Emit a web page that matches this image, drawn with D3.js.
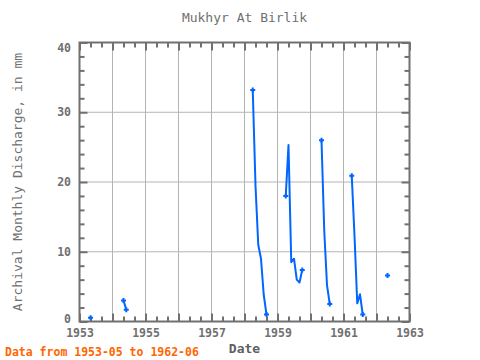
<!DOCTYPE html>
<html><head><meta charset="utf-8">
<script src="https://cdn.jsdelivr.net/npm/d3@7"></script>
<style>body{margin:0;background:#fff;} svg{display:block;}</style>
</head><body>
<svg id="c" width="480" height="360"></svg>
<script>
// Monthly discharge (mm); null marks a gap in the record
const dates = ["1953-05", null,
  "1954-05", "1954-06", null,
  "1958-04", "1958-05", "1958-06", "1958-07", "1958-08", "1958-09", null,
  "1959-04", "1959-05", "1959-06", "1959-07", "1959-08", "1959-09", "1959-10", null,
  "1960-05", "1960-06", "1960-07", "1960-08", null,
  "1961-04", "1961-05", "1961-06", "1961-07", "1961-08", null,
  "1962-05"];
const discharge = [0.55, null,
  3.0, 1.7, null,
  33.2, 19.5, 11.0, 9.0, 3.8, 1.0, null,
  18.0, 25.3, 8.5, 9.0, 6.0, 5.6, 7.4, null,
  26.0, 13.0, 5.2, 2.5, null,
  20.9, 12.3, 2.6, 3.9, 1.0, null,
  6.6];
const xLabelYears = [1953, 1955, 1957, 1959, 1961, 1963];
const yTickValues = [0, 10, 20, 30, 40];
const titleText = "Mukhyr At Birlik";
const yTitle = "Archival Monthly Discharge, in mm";
const xTitle = "Date";
const footerText = "Data from 1953-05 to 1962-06";

const toYear = s => { const [y, m] = s.split("-").map(Number); return y + (m - 1) / 12; };
const data = dates.map((d, i) => d === null ? null : { t: toYear(d), v: discharge[i] });

const svg = d3.select("#c");
const L = 79.5, R = 409.5, T = 42.5, B = 321.5;
const x = d3.scaleLinear().domain([1953, 1963]).range([L, R]);
const y = d3.scaleLinear().domain([0, 40]).range([B, T]);
const axisCol = "#707070", gridCol = "#b4b4b4", lineCol = "#0066ff";
const mono = "'DejaVu Sans Mono', monospace";

// gridlines
const years = d3.range(1954, 1963);
svg.append("g").selectAll("line").data(years).join("line")
  .attr("x1", d => x(d)).attr("x2", d => x(d)).attr("y1", T).attr("y2", B)
  .attr("stroke", gridCol).attr("stroke-width", 1);
svg.append("g").selectAll("line").data([10, 20, 30]).join("line")
  .attr("x1", L).attr("x2", R).attr("y1", d => y(d)).attr("y2", d => y(d))
  .attr("stroke", gridCol).attr("stroke-width", 1);

// ticks
const xMinor = d3.range(0, 31).map(i => 1953 + i / 3).filter(v => Math.abs(v - Math.round(v)) > 1e-6);
const xMajor = d3.range(1953, 1964);
const yMinor = d3.range(0, 41, 2).filter(v => v % 10 !== 0);
function tickAxis(axis, tr) {
  const g = svg.append("g").attr("transform", tr).call(axis);
  g.select(".domain").remove();
  g.selectAll("line").attr("stroke", axisCol).attr("stroke-width", 2);
  return g;
}
tickAxis(d3.axisBottom(x).tickValues(xMinor).tickSize(-5).tickFormat(""), `translate(0,${B})`);
tickAxis(d3.axisBottom(x).tickValues(xMajor).tickSize(-8).tickFormat(""), `translate(0,${B})`);
tickAxis(d3.axisTop(x).tickValues(xMinor).tickSize(-5).tickFormat(""), `translate(0,${T})`);
tickAxis(d3.axisTop(x).tickValues(xMajor).tickSize(-8).tickFormat(""), `translate(0,${T})`);
tickAxis(d3.axisLeft(y).tickValues(yMinor).tickSize(-5).tickFormat(""), `translate(${L},0)`);
tickAxis(d3.axisLeft(y).tickValues(yTickValues).tickSize(-8).tickFormat(""), `translate(${L},0)`);
tickAxis(d3.axisRight(y).tickValues(yMinor).tickSize(-5).tickFormat(""), `translate(${R},0)`);
tickAxis(d3.axisRight(y).tickValues(yTickValues).tickSize(-8).tickFormat(""), `translate(${R},0)`);

// labels
const xl = svg.append("g").attr("transform", `translate(0,${B})`)
  .call(d3.axisBottom(x).tickValues(xLabelYears).tickFormat(d3.format("d")).tickSize(0).tickPadding(7));
xl.select(".domain").remove();
xl.selectAll("text").attr("font-family", mono).attr("font-size", 11.5).attr("font-weight", "bold").attr("fill", axisCol);
const yl = svg.append("g").attr("transform", `translate(${L},0)`)
  .call(d3.axisLeft(y).tickValues(yTickValues).tickFormat(d3.format("d")).tickSize(0).tickPadding(8.5));
yl.select(".domain").remove();
yl.selectAll("text").attr("font-family", mono).attr("font-size", 11.5).attr("font-weight", "bold").attr("fill", axisCol)
  .attr("dy", d => d === 40 ? "0.75em" : d === 0 ? "0.05em" : "0.32em");

// border
svg.append("rect").attr("x", L).attr("y", T).attr("width", R - L).attr("height", B - T)
  .attr("fill", "none").attr("stroke", axisCol).attr("stroke-width", 2);

// line
const line = d3.line().defined(d => d !== null).x(d => x(d.t)).y(d => y(d.v));
svg.append("path").datum(data).attr("d", line)
  .attr("fill", "none").attr("stroke", lineCol).attr("stroke-width", 2).attr("stroke-linejoin", "round");

// markers at segment ends
const ends = data.filter((d, i) => d !== null && (i === 0 || data[i - 1] === null || i === data.length - 1 || data[i + 1] === null));
svg.append("g").selectAll("path").data(ends).join("path")
  .attr("d", d => `M${x(d.t) - 2.5},${y(d.v)}h5M${x(d.t)},${y(d.v) - 2.5}v5`)
  .attr("stroke", lineCol).attr("stroke-width", 2).attr("fill", "none");

// titles
svg.append("text").attr("x", (L + R) / 2).attr("y", 22).attr("text-anchor", "middle")
  .attr("font-family", mono).attr("font-size", 13).attr("fill", axisCol).text(titleText);
svg.append("text").attr("x", (L + R) / 2).attr("y", 353).attr("text-anchor", "middle")
  .attr("font-family", mono).attr("font-size", 13).attr("font-weight", "bold").attr("fill", "#606060").text(xTitle);
svg.append("text").attr("transform", `translate(22,${(T + B) / 2}) rotate(-90)`).attr("text-anchor", "middle")
  .attr("font-family", mono).attr("font-size", 13).attr("fill", axisCol).text(yTitle);
svg.append("text").attr("x", 5).attr("y", 356)
  .attr("font-family", mono).attr("font-size", 11.5).attr("font-weight", "bold").attr("fill", "#ff6600").text(footerText);
</script>
</body></html>
